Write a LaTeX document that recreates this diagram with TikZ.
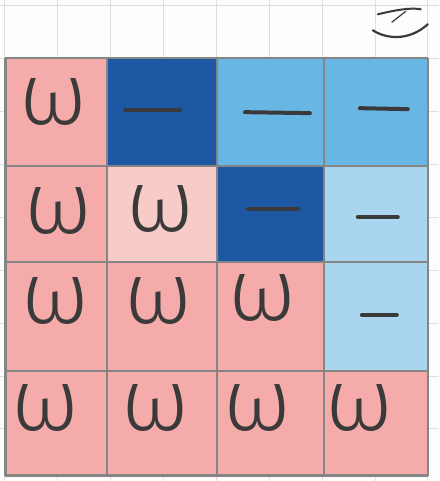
\documentclass[tikz,border=0pt]{standalone}
\usepackage{fontspec}
\IfFontExistsTF{Fira Sans Light}{\newfontfamily\omegafont{Fira Sans Light}}{\newfontfamily\omegafont{Fira Sans}}
\usetikzlibrary{positioning}
\definecolor{Paper}{HTML}{FDFDFB}
\definecolor{PaperLine}{HTML}{DEDEDE}
\definecolor{Pink}{HTML}{F4ABA9}
\definecolor{PalePink}{HTML}{F7CBC8}
\definecolor{Navy}{HTML}{1E58A4}
\definecolor{Sky}{HTML}{67B6E4}
\definecolor{PaleSky}{HTML}{AAD5EE}
\definecolor{Pencil}{HTML}{858585}
\definecolor{Ink}{HTML}{3A3A3A}

\begin{document}
\begin{tikzpicture}[x=1pt,y=-1pt,cell/.style={draw=none, inner sep=0pt, outer sep=0pt},omega/.style={font=\omegafont\fontsize{88}{88}\selectfont, text=Ink, inner sep=0pt},minus/.style={draw=Ink, line width=4pt, line cap=round},pencil/.style={draw=Pencil, line width=2.5pt},paper/.style={draw=PaperLine, line width=0.6pt},scribble/.style={draw=Ink, line cap=round}]
\fill[Paper] (0,0) rectangle (439,481);
\foreach \x in {4,57,...,440} \draw[paper] (\x,0) -- (\x,481);
\foreach \y in {5,58,...,481} \draw[paper] (0,\y) -- (439,\y);
\node[cell, fill=Pink, minimum width=102pt, minimum height=108pt] (c11) at (56,112) {};
\node[cell, fill=Navy, minimum width=110pt, minimum height=108pt] (c12) at (162,112) {};
\node[cell, fill=Sky, minimum width=107pt, minimum height=108pt] (c13) at (270.5,112) {};
\node[cell, fill=Sky, minimum width=104pt, minimum height=108pt] (c14) at (376,112) {};
\node[cell, fill=Pink, minimum width=102pt, minimum height=96pt] (c21) at (56,214) {};
\node[cell, fill=PalePink, minimum width=110pt, minimum height=96pt] (c22) at (162,214) {};
\node[cell, fill=Navy, minimum width=107pt, minimum height=96pt] (c23) at (270.5,214) {};
\node[cell, fill=PaleSky, minimum width=104pt, minimum height=96pt] (c24) at (376,214) {};
\node[cell, fill=Pink, minimum width=102pt, minimum height=109pt] (c31) at (56,316.5) {};
\node[cell, fill=Pink, minimum width=110pt, minimum height=109pt] (c32) at (162,316.5) {};
\node[cell, fill=Pink, minimum width=107pt, minimum height=109pt] (c33) at (270.5,316.5) {};
\node[cell, fill=PaleSky, minimum width=104pt, minimum height=109pt] (c34) at (376,316.5) {};
\node[cell, fill=Pink, minimum width=102pt, minimum height=105pt] (c41) at (56,423.5) {};
\node[cell, fill=Pink, minimum width=110pt, minimum height=105pt] (c42) at (162,423.5) {};
\node[cell, fill=Pink, minimum width=107pt, minimum height=105pt] (c43) at (270.5,423.5) {};
\node[cell, fill=Pink, minimum width=104pt, minimum height=105pt] (c44) at (376,423.5) {};
\draw[pencil] (c11.north west) -- (c14.north east);
\draw[pencil] (c21.north west) -- (c24.north east);
\draw[pencil] (c31.north west) -- (c34.north east);
\draw[pencil] (c41.north west) -- (c44.north east);
\draw[pencil] (c41.south west) -- (c44.south east);
\draw[pencil] (c11.north west) -- (c41.south west);
\draw[pencil] (c12.north west) -- (c42.south west);
\draw[pencil] (c13.north west) -- (c43.south west);
\draw[pencil] (c14.north west) -- (c44.south west);
\draw[pencil] (c14.north east) -- (c44.south east);
\node[omega] (w11) at (53,102) {ω};
\node[omega] (w21) at (58,211) {ω};
\node[omega] (w22) at (160,209) {ω};
\node[omega] (w31) at (55,301) {ω};
\node[omega] (w32) at (158,301) {ω};
\node[omega] (w33) at (263,298) {ω};
\node[omega] (w41) at (45,408) {ω};
\node[omega] (w42) at (155,408) {ω};
\node[omega] (w43) at (258,408) {ω};
\node[omega] (w44) at (360,408) {ω};
\draw[minus] (125,110) -- (180,110);
\draw[minus] (245,112) -- (310,113);
\draw[minus] (360,108) -- (408,109);
\draw[minus] (248,209) -- (298,209);
\draw[minus] (358,217) -- (398,217);
\draw[minus] (362,315) -- (397,315);
\draw[scribble, line width=2pt] (378,14) .. controls (395,10) and (410,7) .. (421,9);
\draw[scribble, line width=1.2pt] (392,22) -- (406,11);
\draw[scribble, line width=2.2pt] (373,30) .. controls (385,38) and (408,42) .. (428,24);
\end{tikzpicture}
\end{document}
